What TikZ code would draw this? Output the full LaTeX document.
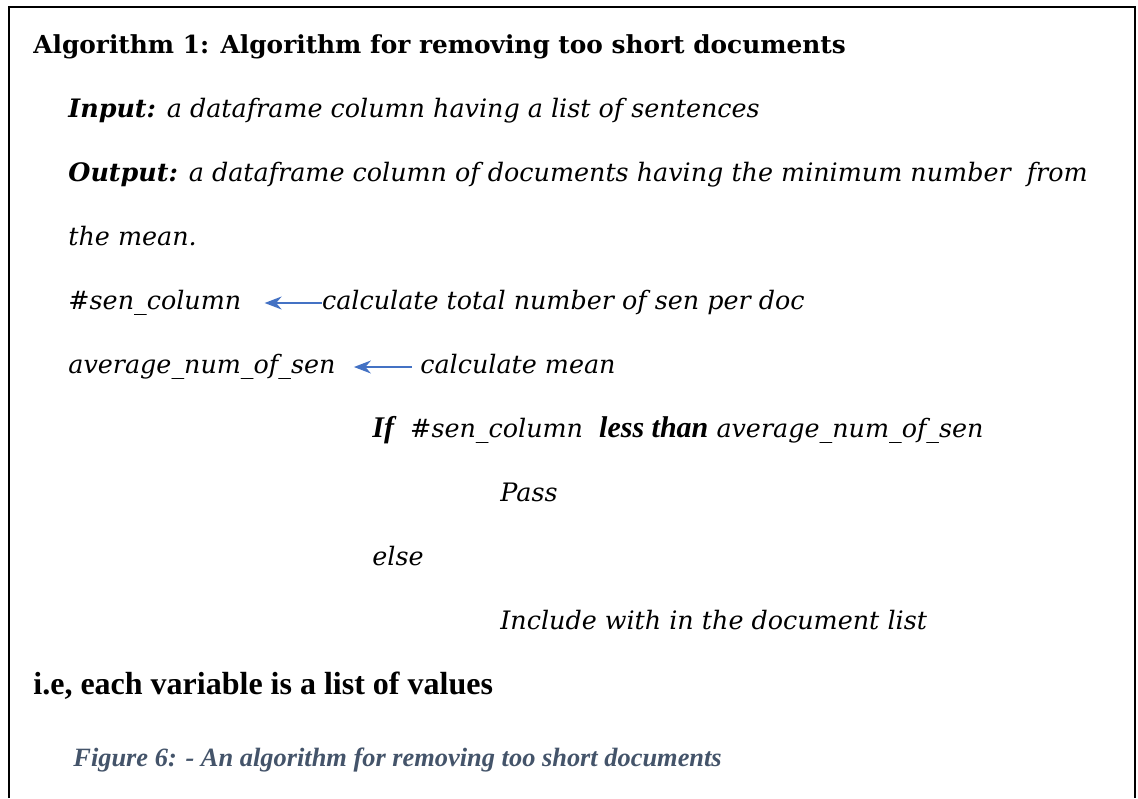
\documentclass[tikz,border=0pt]{standalone}
\usepackage{fontspec}
\setmainfont{DejaVu Serif}
\newfontfamily\timesfont{Liberation Serif}
\usetikzlibrary{arrows.meta, positioning}
\definecolor{arrowblue}{HTML}{4472C4}
\definecolor{captiongray}{HTML}{44546A}

\begin{document}
\begin{tikzpicture}[
    x=0.5pt, y=-0.5pt,
    line/.style={anchor=base west, inner sep=0pt, font=\fontsize{12.7}{15}\selectfont\itshape},
    head/.style={anchor=base west, inner sep=0pt, font=\fontsize{12.4}{15}\selectfont\bfseries},
    note/.style={anchor=base west, inner sep=0pt, font=\timesfont\fontsize{16}{18}\selectfont\bfseries},
    capt/.style={anchor=base west, inner sep=0pt, text=captiongray, font=\timesfont\fontsize{13.2}{16}\selectfont\bfseries\itshape},
    arrow/.style={-{Stealth[length=8.5pt, width=6.5pt]}, draw=arrowblue, fill=arrowblue, line width=0.75pt},
    node distance=40pt
]
\useasboundingbox (0,0) rectangle (1138,798);

% CADRE
\draw[line width=1pt] (9,798) -- (9,7) -- (1135,7) -- (1135,798);

% EN-TETE
\node[head] (title) at (33,53) {Algorithm 1: Algorithm for removing too short documents};
\node[line] (input) at (68,117) {\textbf{Input:} a dataframe column having a list of sentences};
\node[line] (output) at (68,181) {\textbf{Output:} a dataframe column of documents having the minimum number \ from};
\node[line] (outmean) at (68,245) {the mean.};

% CALCULS
\node[line] (sencol) at (68,309) {\#sen\_column};
\node[line, base right=40pt of sencol] (calctot) {calculate total number of sen per doc};
\node[line] (avgnum) at (68,373) {average\_num\_of\_sen};
\node[line, base right=42pt of avgnum] (calcmean) {calculate mean};

\draw[arrow, shorten >=11.5pt] ([yshift=3pt]calctot.base west) -- ([yshift=3pt]sencol.base east);
\draw[arrow, shorten <=4pt, shorten >=9pt] ([yshift=3pt]calcmean.base west) -- ([yshift=3pt]avgnum.base east);

% CONDITION
\node[line] (ifline) at (372,437) {{\timesfont\fontsize{15}{17}\selectfont\bfseries\itshape If} \ \#sen\_column \ {\timesfont\fontsize{15}{17}\selectfont\bfseries\itshape less than} average\_num\_of\_sen};
\node[line] (pass) at (500,501) {Pass};
\node[line] (elseline) at (372,565) {else};
\node[line] (include) at (500,629) {Include with in the document list};

% BAS
\node[note] (remark) at (33,694) {i.e, each variable is a list of values};
\node[capt] (caption) at (73,766) {Figure 6: - An algorithm for removing too short documents};

\end{tikzpicture}
\end{document}
